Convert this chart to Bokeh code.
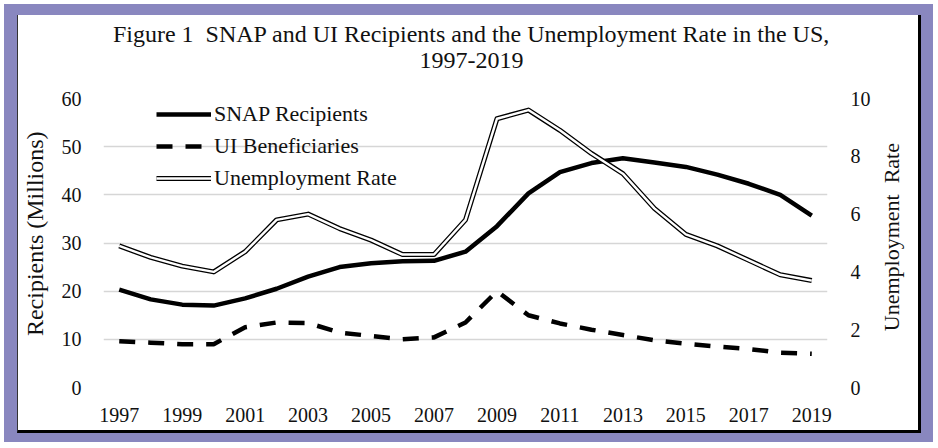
import math
from bokeh.plotting import figure
from bokeh.layouts import column, row
from bokeh.models import Range1d, LinearAxis, Legend, LegendItem, FixedTicker, Label
from bokeh.embed import file_html
from bokeh.resources import INLINE

years = list(range(1997, 2020))
snap = [20.3, 18.3, 17.2, 17.0, 18.5, 20.5, 23.0, 25.0, 25.8, 26.2, 26.3, 28.2,
        33.5, 40.3, 44.7, 46.6, 47.6, 46.7, 45.8, 44.2, 42.3, 40.0, 35.7]
ui = [9.6, 9.3, 9.0, 9.0, 12.5, 13.5, 13.4, 11.4, 10.7, 10.0, 10.4, 13.5,
      20.0, 15.0, 13.3, 12.0, 10.9, 9.8, 9.1, 8.5, 8.0, 7.2, 7.0]
urate = [4.9, 4.5, 4.2, 4.0, 4.7, 5.8, 6.0, 5.5, 5.1, 4.6, 4.6, 5.8,
         9.3, 9.6, 8.9, 8.1, 7.4, 6.2, 5.3, 4.9, 4.4, 3.9, 3.7]
tick_years = [1997, 1999, 2001, 2003, 2005, 2007, 2009, 2011, 2013, 2015, 2017, 2019]

title_line1 = "Figure 1\u00a0 SNAP and UI Recipients and the Unemployment Rate in the US,"
title_line2 = "1997-2019"
left_label = "Recipients (Millions)"
right_label = "Unemployment\u00a0 Rate"
legend_labels = ["SNAP Recipients", "UI Beneficiaries", "Unemployment Rate"]

FONT = "Liberation Serif, Times New Roman, serif"
PURPLE = "#8987bf"
TXT = "#111111"


def text_panel(w, h):
    f = figure(width=w, height=h, output_backend="svg", toolbar_location=None,
               x_range=Range1d(0, w), y_range=Range1d(0, h),
               x_axis_type=None, y_axis_type=None,
               min_border_left=0, min_border_right=0, min_border_top=0, min_border_bottom=0)
    f.grid.visible = False
    f.outline_line_color = None
    f.background_fill_color = "white"
    f.border_fill_color = "white"
    f.title.text = ""
    return f


def add_text(f, txt, x, y, size, angle=0.0):
    f.add_layout(Label(x=x, y=y, angle=angle, text=txt, text_align="center",
                       text_baseline="middle", text_font=FONT, text_font_size=size,
                       text_color=TXT))


# title strip (above the chart)
T = text_panel(900, 71)
add_text(T, title_line1, 453, 53, "24px")
add_text(T, title_line2, 453, 26, "24px")

# left / right axis-title strips
L = text_panel(40, 344)
add_text(L, left_label, 16, 183, "24px", math.pi / 2)
R = text_panel(45, 344)
add_text(R, right_label, 18, 179, "22px", math.pi / 2)

# main chart
p = figure(width=815, height=344, output_backend="svg", toolbar_location=None,
           x_range=Range1d(1996.5, 2019.5), y_range=Range1d(0, 60),
           min_border_left=40, min_border_right=40, min_border_top=12, min_border_bottom=43)
p.extra_y_ranges = {"rate": Range1d(0, 10)}
p.outline_line_color = None
p.background_fill_color = "white"
p.border_fill_color = "white"
p.title.text = ""

p.xgrid.grid_line_color = None
p.ygrid.grid_line_color = "#d6d6d6"
p.ygrid.grid_line_width = 1.6
p.yaxis.ticker = FixedTicker(ticks=[0, 10, 20, 30, 40, 50, 60])
p.xaxis.ticker = FixedTicker(ticks=tick_years)

ax2 = LinearAxis(y_range_name="rate", ticker=FixedTicker(ticks=[0, 2, 4, 6, 8, 10]))
p.add_layout(ax2, "right")

for ax in [p.xaxis[0], p.yaxis[0], ax2]:
    ax.axis_line_color = None
    ax.major_tick_line_color = None
    ax.minor_tick_line_color = None
    ax.major_label_text_font = FONT
    ax.major_label_text_font_size = "20px"
    ax.major_label_text_color = TXT
p.xaxis[0].major_label_standoff = 14
p.yaxis[0].major_label_standoff = 16
ax2.major_label_standoff = 17

snap_r = p.line(years, snap, line_color="black", line_width=4.5, line_join="round")
ui_r = p.line(years, ui, line_color="black", line_width=4.5, line_dash="16 13")
ur_b = p.line(years, urate, y_range_name="rate", line_color="black", line_width=5, line_join="round")
ur_w = p.line(years, urate, y_range_name="rate", line_color="white", line_width=2.4, line_join="round")

legend = Legend(items=[LegendItem(label=legend_labels[0], renderers=[snap_r]),
                       LegendItem(label=legend_labels[1], renderers=[ui_r]),
                       LegendItem(label=legend_labels[2], renderers=[ur_b, ur_w])],
                location=(53, 194), border_line_color=None, background_fill_alpha=0,
                label_text_font=FONT, label_text_font_size="22px", label_text_color=TXT,
                glyph_width=55, glyph_height=30, label_height=30, spacing=2,
                padding=0, margin=0, label_standoff=3)
p.add_layout(legend)

inner = column(T, row(L, p, R, spacing=0), spacing=0, margin=(11, 12, 9, 13),
               styles={"background-color": "white",
                       "border-right": "3px solid black", "border-bottom": "3px solid black",
                       "border-left": "1px solid #333333"})

lay = column(inner, margin=(4, 6, 6, 4), styles={"background-color": PURPLE})

open("out.html", "w").write(file_html(lay, INLINE))
